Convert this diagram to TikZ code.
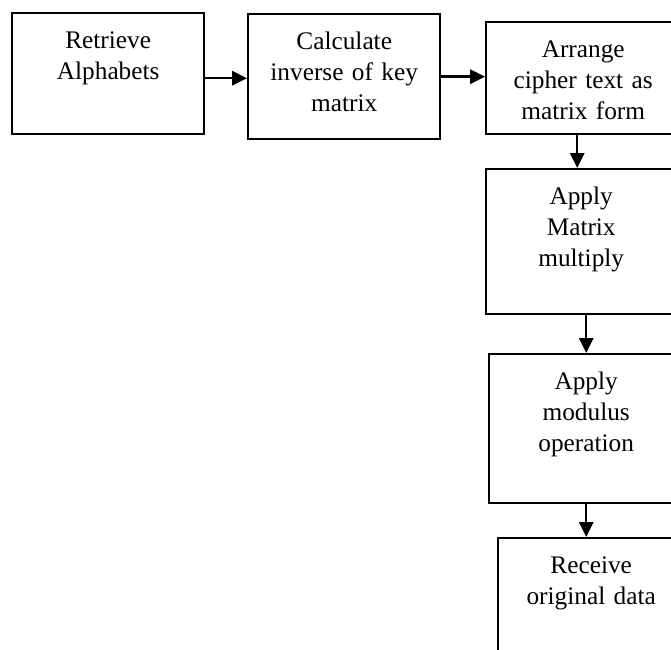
\documentclass[tikz,border=0pt]{standalone}
\usepackage{fontspec}
\setmainfont{Liberation Serif}
\usetikzlibrary{arrows.meta}

\tikzset{
  stage/.style={draw, line width=0.06cm, anchor=north west, align=center,
    inner xsep=0pt, inner ysep=0.455cm, text height=0.42cm,
    font=\fontsize{18}{22}\selectfont},
  flow/.style={line width=0.06cm, -{Triangle[length=0.37cm,width=0.35cm]}}
}

\begin{document}
\begin{tikzpicture}
            \useasboundingbox (0,0) rectangle (16.775000,16.225000);
            \clip (0,0) rectangle (16.775000,16.225000);

            % Drawing box Retrieve
            \node [stage, text width=4.800000cm, text depth=1.695000cm] (retrieve) at (0.275000,15.925000) {Retrieve\\Alphabets};%

            % Drawing box Calculate
            \node [stage, text width=4.800000cm, text depth=1.795000cm] (inverse) at (6.175000,15.900000) {Calculate\\inverse of key\\matrix};%

            % Drawing box Arrange
            \node [stage, text width=4.850000cm, text depth=1.470000cm] (arrange) at (12.125000,15.700000) {Arrange\\cipher text as\\matrix form};%

            % Drawing box Multiply
            \node [stage, text width=4.750000cm, text depth=2.295000cm] (multiply) at (12.125000,12.025000) {Apply\\Matrix\\multiply};%

            % Drawing box Modulus
            \node [stage, text width=4.850000cm, text depth=2.395000cm] (modulus) at (12.200000,7.400000) {Apply\\modulus\\operation};%

            % Drawing box Receive
            \node [stage, text width=4.650000cm, text depth=2.170000cm] (receive) at (12.425000,2.800000) {Receive\\original data};%

            % Drawing arrows retrieve inverse arrange
            \draw [flow] ([yshift=-0.112500cm]retrieve.east) -- ([yshift=-0.112500cm]retrieve.east -| inverse.west);%
            \draw [flow] (inverse.east) -- (inverse.east -| arrange.west);%

            % Drawing arrows down the column
            \draw [flow] ([xshift=-0.150000cm]arrange.south) -- ([xshift=-0.150000cm]arrange.south |- multiply.north);%
            \draw [flow] ([xshift=0.125000cm]multiply.south) -- ([xshift=0.125000cm]multiply.south |- modulus.north);%
            \draw [flow] (modulus.south) -- (modulus.south |- receive.north);%
\end{tikzpicture}
\end{document}
